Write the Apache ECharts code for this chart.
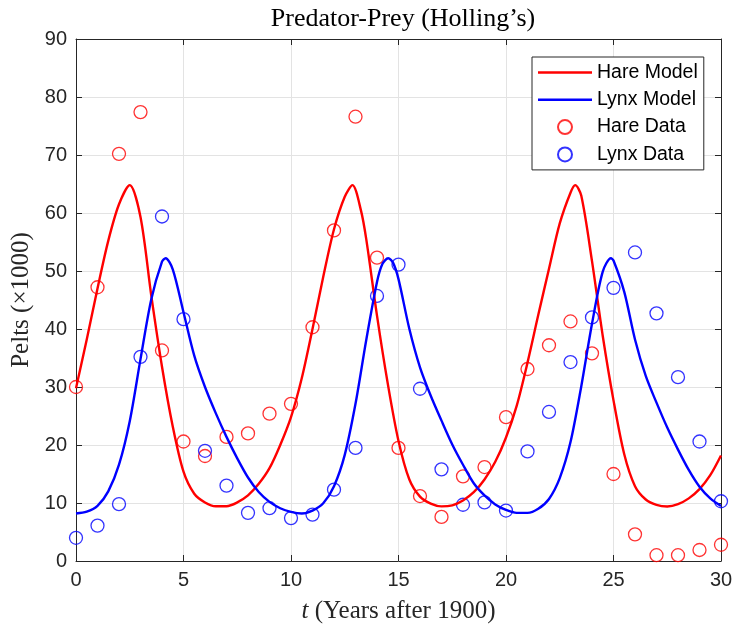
<!DOCTYPE html>
<html>
<head>
<meta charset="utf-8">
<script src="https://cdn.jsdelivr.net/npm/echarts@6/dist/echarts.min.js"></script>
<style>
  html, body { margin: 0; padding: 0; background: #fff; }
  #chart { width: 738px; height: 633px; }
</style>
</head>
<body>
<div id="chart"></div>
<script>
  // yearly pelt counts (thousands), t = years after 1900
  const years = [0,1,2,3,4,5,6,7,8,9,10,11,12,13,14,15,16,17,18,19,20,21,22,23,24,25,26,27,28,29,30];
  const hareData = [30,47.2,70.2,77.4,36.3,20.6,18.1,21.4,22,25.4,27.1,40.3,57,76.6,52.3,19.5,11.2,7.6,14.6,16.2,24.8,33.1,37.2,41.3,35.8,15,4.6,1,1,1.9,2.8];
  const lynxData = [4,6.1,9.8,35.2,59.4,41.7,19,13,8.3,9.1,7.4,8,12.3,19.5,45.7,51.1,29.7,15.8,9.7,10.1,8.7,18.9,25.7,34.3,42,47.1,53.2,42.7,31.7,20.6,10.3];

  // model curves
  const hareModelT = [0,0.5,1,1.5,2,2.5,3,3.5,4,4.5,5,5.5,6,6.5,7,7.5,8,8.5,9,9.5,10,10.5,11,11.5,12,12.5,12.86,13.25,13.5,14,14.5,15,15.5,16,16.5,17,17.5,18,18.5,19,19.5,20,20.5,21,21.5,22,22.5,23,23.22,23.5,24,24.5,25,25.5,26,26.5,27,27.5,28,28.5,29,29.5,30];
  const hareModelV = [29.8,38.2,47,55.2,61.5,64.8,59.3,45.8,33.5,23.2,15.4,11.6,10.1,9.45,9.45,10.1,11.3,13.3,16,20,24.8,31.5,40,49,57.2,62.8,64.8,60.5,55.5,42.3,30.6,20.7,14.1,11.1,9.9,9.42,9.6,10.44,11.86,14.06,17.1,21.3,26.8,34.2,42.4,50.4,58.2,63.5,64.8,63,51.7,38.8,27.7,18.4,12.9,10.6,9.67,9.4,9.8,10.8,12.4,14.8,18.2];
  const lynxModelT = [0,0.5,1,1.5,2,2.5,3,3.5,4,4.17,4.5,5,5.5,6,6.5,7,7.5,8,8.5,9,9.5,10,10.5,11,11.5,12,12.5,13,13.5,14,14.25,14.52,14.75,15,15.5,16,16.5,17,17.5,18,18.5,19,19.5,20,20.5,21,21.5,22,22.5,23,23.5,24,24.5,24.88,25,25.5,26,26.5,27,27.5,28,28.5,29,29.5,30];
  const lynxModelV = [8.2,8.5,9.5,12,16.6,24.1,34.8,45.1,51.6,52.2,50.3,42.9,35.4,30,25.5,21.4,17.7,14.4,11.9,10.2,9.1,8.47,8.2,8.7,9.95,12.9,18.3,27.1,38.1,48.1,51.2,52.2,51.4,48.6,40.1,33.4,28.5,24.2,20.1,16.6,13.4,11.3,9.75,8.8,8.3,8.3,9,10.7,14.3,20.5,30.1,40.9,49.9,52.2,51.8,46.4,38.2,31.9,27.3,23,19.2,15.7,12.8,10.8,9.5];

  const xTicks = [0,5,10,15,20,25,30];
  const yTicks = [0,10,20,30,40,50,60,70,80,90];

  const pairs = (xs, ys) => xs.map((x, i) => [x, ys[i]]);

  const axisColor = '#262626';
  const gridColor = '#e3e3e3';
  // legend line sample: thin bar inside a 54x14 box (corner specks keep the box size)
  const lineIcon = 'path://M0,0 L0.01,0 L0.01,0.01 Z M0,5.8 L54,5.8 L54,8.2 L0,8.2 Z M53.99,13.99 L54,13.99 L54,14 Z';

  let myChart = echarts.init(document.getElementById('chart'), null, { renderer: 'canvas' });

  const boxAxis = (pos, ticks) => ({
    type: 'value',
    position: pos,
    min: ticks[0],
    max: ticks[ticks.length - 1],
    interval: ticks[1] - ticks[0],
    axisLine: { show: true, onZero: false, lineStyle: { color: axisColor, width: 1 } },
    axisTick: { show: true, inside: true, length: 6, lineStyle: { color: axisColor } },
    axisLabel: { show: false },
    splitLine: { show: false }
  });

  myChart.setOption({
    animation: false,
    backgroundColor: '#fff',
    title: {
      text: 'Predator-Prey (Holling\u2019s)',
      left: 398,
      top: 1,
      textAlign: 'center',
      textStyle: { fontFamily: 'Liberation Serif', fontWeight: 'normal', fontSize: 26, color: '#000' }
    },
    grid: { left: 76, top: 39, right: 17, bottom: 72 },
    legend: {
      left: 532,
      top: 57,
      orient: 'vertical',
      itemWidth: 54,
      itemHeight: 14,
      itemGap: 7.3,
      padding: [5.5, 6, 5.5, 6],
      backgroundColor: '#fff',
      borderColor: axisColor,
      borderWidth: 1,
      borderRadius: 0,
      textStyle: { fontFamily: 'Liberation Sans', fontSize: 19.5, color: '#000', lineHeight: 20 },
      data: [
        { name: 'Hare Model', icon: lineIcon },
        { name: 'Lynx Model', icon: lineIcon },
        'Hare Data',
        'Lynx Data'
      ]
    },
    xAxis: [
      {
        type: 'value',
        min: xTicks[0],
        max: xTicks[xTicks.length - 1],
        interval: xTicks[1] - xTicks[0],
        name: '{i|t} (Years after 1900)',
        nameLocation: 'middle',
        nameGap: 38,
        nameTextStyle: {
          fontFamily: 'Liberation Serif', fontSize: 25, color: '#262626',
          rich: { i: { fontFamily: 'Liberation Serif', fontStyle: 'italic', fontSize: 25, color: '#262626' } }
        },
        axisLine: { show: true, onZero: false, lineStyle: { color: axisColor, width: 1 } },
        axisTick: { show: true, inside: true, length: 6, lineStyle: { color: axisColor } },
        axisLabel: { margin: 9, fontFamily: 'Liberation Sans', fontSize: 20, color: axisColor },
        splitLine: { show: true, lineStyle: { color: gridColor, width: 1 } }
      },
      boxAxis('top', xTicks)
    ],
    yAxis: [
      {
        type: 'value',
        min: yTicks[0],
        max: yTicks[yTicks.length - 1],
        interval: yTicks[1] - yTicks[0],
        name: 'Pelts (\u00d71000)',
        nameLocation: 'middle',
        nameRotate: 90,
        nameGap: 41,
        nameTextStyle: { fontFamily: 'Liberation Serif', fontSize: 25, color: '#262626' },
        axisLine: { show: true, onZero: false, lineStyle: { color: axisColor, width: 1 } },
        axisTick: { show: true, inside: true, length: 6, lineStyle: { color: axisColor } },
        axisLabel: { margin: 9, fontFamily: 'Liberation Sans', fontSize: 20, color: axisColor },
        splitLine: { show: true, lineStyle: { color: gridColor, width: 1 } }
      },
      boxAxis('right', yTicks)
    ],
    series: [
      {
        name: 'Hare Model',
        type: 'line',
        data: pairs(hareModelT, hareModelV),
        smooth: 0.3,
        symbol: 'none',
        color: '#ff0000',
        lineStyle: { color: '#ff0000', width: 2.4 }
      },
      {
        name: 'Lynx Model',
        type: 'line',
        data: pairs(lynxModelT, lynxModelV),
        smooth: 0.3,
        symbol: 'none',
        color: '#0000ff',
        lineStyle: { color: '#0000ff', width: 2.4 }
      },
      {
        name: 'Hare Data',
        type: 'scatter',
        data: pairs(years, hareData),
        symbol: 'circle',
        symbolSize: 13,
        itemStyle: { color: 'rgba(0,0,0,0)', borderColor: '#ff0000', borderWidth: 1.3 }
      },
      {
        name: 'Lynx Data',
        type: 'scatter',
        data: pairs(years, lynxData),
        symbol: 'circle',
        symbolSize: 13,
        itemStyle: { color: 'rgba(0,0,0,0)', borderColor: '#0000ff', borderWidth: 1.3 }
      }
    ]
  });
</script>
</body>
</html>
